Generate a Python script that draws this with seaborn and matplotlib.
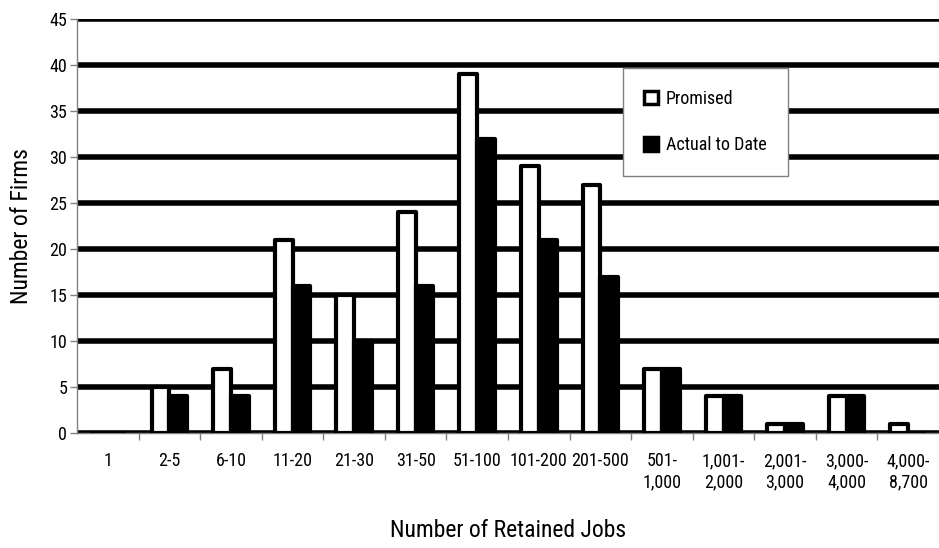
import matplotlib
matplotlib.use("Agg")
import matplotlib.pyplot as plt
import pandas as pd
import seaborn as sns
from matplotlib.ticker import FixedLocator

categories = ["1", "2-5", "6-10", "11-20", "21-30", "31-50", "51-100", "101-200",
              "201-500", "501-\n1,000", "1,001-\n2,000", "2,001-\n3,000",
              "3,000-\n4,000", "4,000-\n8,700"]
promised = [0, 5, 7, 21, 15, 24, 39, 29, 27, 7, 4, 1, 4, 1]
actual = [0, 4, 4, 16, 10, 16, 32, 21, 17, 7, 4, 1, 4, 0]

df = pd.DataFrame({"range": categories * 2,
                   "firms": promised + actual,
                   "series": ["Promised"] * len(categories) + ["Actual to Date"] * len(categories)})

sns.set_style("white")
plt.rcParams["font.family"] = ["Roboto Condensed", "DejaVu Sans"]
plt.rcParams["text.color"] = "black"
plt.rcParams["axes.labelcolor"] = "black"
plt.rcParams["xtick.color"] = "black"
plt.rcParams["ytick.color"] = "black"

fig = plt.figure(figsize=(9.39, 5.48), dpi=100)
ax = fig.add_axes([77 / 939, 1 - 433 / 548, 862 / 939, 414 / 548])

sns.barplot(data=df, x="range", y="firms", hue="series", order=categories,
            palette={"Promised": "white", "Actual to Date": "black"},
            edgecolor="black", linewidth=3, width=0.58, ax=ax, zorder=3)
for p in ax.patches:
    p.set_joinstyle("round")

ax.set_ylim(0, 45)
ax.set_xlim(-0.5, len(categories) - 0.5)
ax.set_yticks(range(0, 46, 5))
ax.yaxis.grid(True, color="black", linewidth=4)
ax.xaxis.grid(False)
ax.set_axisbelow(True)

for side in ["top", "right"]:
    ax.spines[side].set_visible(False)
for side in ["left", "bottom"]:
    ax.spines[side].set_color("#808080")
    ax.spines[side].set_linewidth(1)

ax.tick_params(axis="y", which="major", length=5, color="#808080", width=1,
               labelsize=13, pad=2, left=True)
ax.tick_params(axis="x", which="major", length=0, labelsize=13, pad=14)
ax.xaxis.set_minor_locator(FixedLocator([i + 0.5 for i in range(len(categories) - 1)]))
ax.tick_params(axis="x", which="minor", length=5, color="#808080", width=1, bottom=True)

ax.set_xlabel("Number of Retained Jobs", fontsize=17, labelpad=20)
ax.set_ylabel("Number of Firms", fontsize=17, labelpad=12)

handles, labels = ax.get_legend_handles_labels()
leg = ax.legend(handles, labels, loc="upper left",
                bbox_to_anchor=(0.633, 0.882), fontsize=13, frameon=True,
                fancybox=False, edgecolor="#808080", framealpha=1,
                handlelength=0.75, handleheight=0.75, handletextpad=0.45,
                labelspacing=1.6, borderpad=1.2, borderaxespad=0)
leg.get_frame().set_linewidth(1)
for h in leg.legend_handles:
    h.set_linewidth(2.5)

fig.savefig("out.png", dpi=100)
